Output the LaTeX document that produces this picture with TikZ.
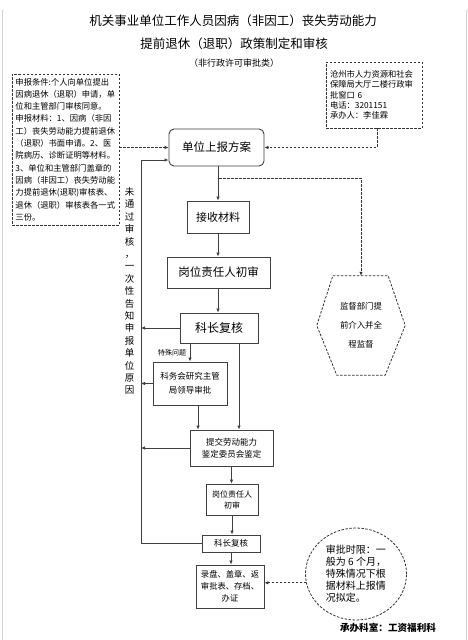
\documentclass[tikz,border=0pt]{standalone}
\usepackage{fontspec}
\setmainfont{Noto Sans CJK SC}
\usetikzlibrary{shapes.geometric,arrows.meta,calc}
\begin{document}
\begin{tikzpicture}[x=1pt,y=-1pt,
 box/.style={draw=black!75,line width=0.9pt,inner sep=1pt,align=center},
 dbox/.style={draw=black!80,line width=0.8pt,dash pattern=on 2.5pt off 1.5pt,inner sep=0pt},
 arr/.style={draw=black!75,line width=0.8pt,-{Latex[length=4pt,width=3.5pt]}},
 darr/.style={draw=black!80,line width=0.8pt,dash pattern=on 2.5pt off 1.5pt,-{Latex[length=4pt,width=3.5pt]}},
 edge/.style={draw=black!18,line width=0.8pt}
 ]
\useasboundingbox (0,0) rectangle (468,640);
\fill[white] (0,0) rectangle (468,640);
\draw[edge] (2.5,10) -- (2.5,640);
\draw[edge] (466.5,10) -- (466.5,640);

% titles
\node[font=\fontsize{12.5}{14}\selectfont] (t1) at (233,21) {机关事业单位工作人员因病（非因工）丧失劳动能力};
\node[font=\fontsize{12.5}{14}\selectfont] (t2) at (234,44) {提前退休（退职）政策制定和审核};
\node[font=\fontsize{9}{11}\selectfont] (t3) at (234,63) {（非行政许可审批类）};

% side boxes
\node[dbox, minimum width=107pt, minimum height=151pt, text width=100pt, align=left,
      font=\fontsize{8.3}{12.3}\selectfont] (cond) at (65.5,149.5)
 {申报条件:个人向单位提出\\因病退休（退职）申请，单\\位和主管部门审核同意。\\申报材料：1、因病（非因\\工）丧失劳动能力提前退休\\（退职）书面申请。2、医\\院病历、诊断证明等材料。\\3、单位和主管部门盖章的\\因病（非因工）丧失劳动能\\力提前退休(退职)审核表、\\退休（退职）审核表各一式\\三份。};
\node[dbox, minimum width=96pt, minimum height=66pt, text width=88pt, align=left,
      font=\fontsize{8.3}{10.3}\selectfont] (info) at (374,95)
 {沧州市人力资源和社会\\保障局大厅二楼行政审\\批窗口 6\\电话：3201151\\承办人：李佳霖};

% main flow
\node[box, rounded corners=5pt, minimum width=95pt, minimum height=37pt, font=\fontsize{11.5}{13}\selectfont] (unit) at (216.5,147.5) {单位上报方案};
\node[box, minimum width=62pt, minimum height=32pt, font=\fontsize{11}{13}\selectfont] (recv) at (218,217) {接收材料};
\node[box, minimum width=103pt, minimum height=31pt, font=\fontsize{11.5}{13}\selectfont] (init1) at (218.5,272.5) {岗位责任人初审};
\node[box, minimum width=78pt, minimum height=30pt, font=\fontsize{12}{14}\selectfont] (rev1) at (219,328) {科长复核};
\node[box, minimum width=74pt, minimum height=43pt, font=\fontsize{8.5}{13.5}\selectfont] (meet) at (190,383.5) {科务会研究主管\\局领导审批};
\node[box, minimum width=83pt, minimum height=36pt, font=\fontsize{8.5}{12}\selectfont] (submit) at (231.5,448) {提交劳动能力\\鉴定委员会鉴定};
\node[box, minimum width=52pt, minimum height=31pt, font=\fontsize{8}{11}\selectfont] (init2) at (232,499.5) {岗位责任人\\初审};
\node[box, minimum width=58pt, minimum height=17pt, font=\fontsize{8.5}{10}\selectfont] (rev2) at (231,543.5) {科长复核};
\node[box, minimum width=68pt, minimum height=43pt, font=\fontsize{8.3}{12}\selectfont] (final) at (230,586.5) {录盘、盖章、返\\审批表、存档、\\办证};

% circle note
\node[dbox, ellipse, minimum width=101pt, minimum height=92pt, align=left, font=\fontsize{10}{12}\selectfont] (circ) at (356,574)
 {审批时限：一\\般为 6 个月，\\特殊情况下根\\据材料上报情\\况拟定。};

% hexagon
\node[minimum width=88pt, minimum height=99pt, inner sep=0pt, align=center, font=\fontsize{8.4}{19}\selectfont] (hex) at (361,325.5) {监督部门提\\前介入并全\\程监督};
\draw[draw=black!80,line width=0.8pt,dash pattern=on 2.5pt off 1.5pt]
 ([xshift=16pt]hex.north west) -- ([xshift=-17pt]hex.north east) -- (hex.east)
 -- ([xshift=-20pt]hex.south east) -- ([xshift=20pt]hex.south west) -- (hex.west) -- cycle;

% vertical text
\node[align=center, font=\fontsize{9.5}{12.4}\selectfont, inner sep=0pt] (vtxt) at (129.5,291)
 {未\\通\\过\\审\\核\\，\\一\\次\\性\\告\\知\\申\\报\\单\\位\\原\\因};
\node[font=\fontsize{7}{8}\selectfont, inner sep=0pt] (spec) at (172,353) {特殊问题};
\node[font=\bfseries\fontsize{9.6}{11}\selectfont] (dept) at (388,628) {承办科室：工资福利科};

% connectors
\coordinate (loopx) at (141,160);
\coordinate (d0) at (219,178);
\draw[arr] (recv.north |- unit.south) -- (recv.north);
\draw[arr] (recv.south) -- (recv.south |- init1.north);
\draw[arr] (recv.south |- init1.south) -- (recv.south |- rev1.north);
\draw[darr] (d0) -| (hex.north);
\draw[darr] ([xshift=3pt]info.south) |- (unit.east);
\draw[darr] (cond.east |- unit.west) -- (unit.west);
\draw[arr] (rev2.west) -| (loopx) -- (loopx -| unit.west);
\draw[arr] (rev1.west) -- (rev1.west -| loopx);
\draw[arr] (meet.west) -- (meet.west -| loopx);
\draw[arr] (submit.west) -- (submit.west -| loopx);
\draw[arr] (meet.north |- rev1.south) -- (meet.north);
\draw[arr] ([xshift=20pt]rev1.south) -- ([xshift=20pt]rev1.south |- submit.north);
\draw[arr] ([xshift=8pt]meet.south) -- ([xshift=8pt]meet.south |- submit.north);
\draw[arr] (submit.south) -- (submit.south |- init2.north);
\draw[arr] (init2.south) -- (init2.south |- rev2.north);
\draw[arr] (rev2.south) -- (rev2.south |- final.north);
\draw[darr] (circ.190) -- (circ.190 -| final.east);
\end{tikzpicture}
\end{document}
